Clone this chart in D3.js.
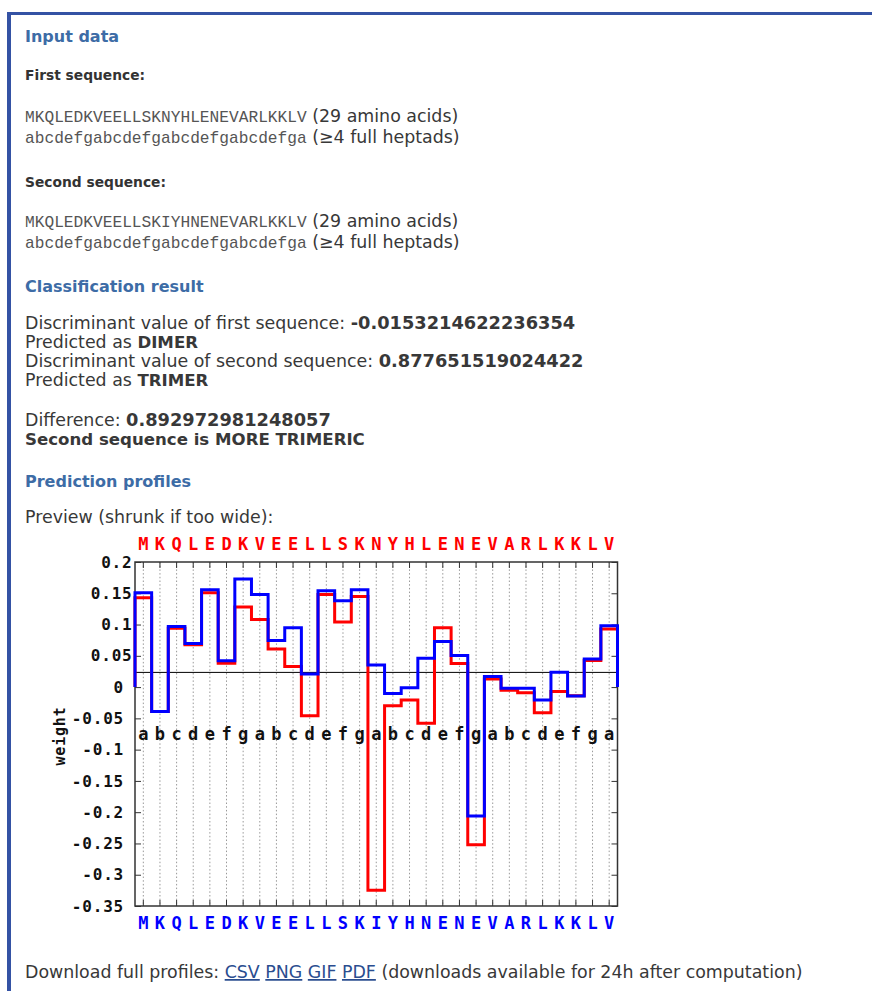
<!DOCTYPE html>
<html>
<head>
<meta charset="utf-8">
<script src="https://cdn.jsdelivr.net/npm/d3@7"></script>
<style>
  body { margin: 0; background: #fff; }
  svg { display: block; }
  .txt { font-family: "DejaVu Sans", Verdana, sans-serif; fill: #383838; }
  .mono { font-family: "Liberation Mono", "Courier New", monospace; fill: #555; }
  .plot text { font-family: "DejaVu Sans Mono", monospace; font-weight: bold; }
</style>
</head>
<body>
<div id="page"></div>
<script>
// sequences and heptad register
const seq1 = 'MKQLEDKVEELLSKNYHLENEVARLKKLV'.split('');
const seq2 = 'MKQLEDKVEELLSKIYHNENEVARLKKLV'.split('');
const heptads = 'abcdefgabcdefgabcdefgabcdefga'.split('');

// per-residue weights (red = first, blue = second)
const weights1 = [0.143, -0.039, 0.094, 0.0675, 0.151, 0.038, 0.128, 0.108, 0.061, 0.033,
	-0.046, 0.148, 0.104, 0.145, -0.325, -0.030, -0.0205, -0.058, 0.095, 0.0376,
	-0.252, 0.013, -0.005, -0.009, -0.041, -0.007, -0.014, 0.0424, 0.093];
const weights2 = [0.151, -0.039, 0.097, 0.0696, 0.1555, 0.042, 0.173, 0.148, 0.0744, 0.095,
	0.021, 0.154, 0.138, 0.1555, 0.0355, -0.0104, -0.001, 0.046, 0.0728, 0.0504,
	-0.206, 0.0168, -0.002, -0.002, -0.0205, 0.0237, -0.0141, 0.045, 0.098];

const yTicks = [0.2, 0.15, 0.1, 0.05, 0, -0.05, -0.1, -0.15, -0.2, -0.25, -0.3, -0.35];
const cutoff = 0.0235;

const discriminants = ['-0.0153214622236354', '0.877651519024422'];
const predictions = ['DIMER', 'TRIMER'];
const difference = '0.892972981248057';
const downloads = ['CSV', 'PNG', 'GIF', 'PDF'];

const W = 872, H = 991;
const headColor = '#3d6ca6';
const borderColor = '#3452a4';

const svg = d3.select('#page').append('svg')
	.attr('width', W)
	.attr('height', H);

// page frame
svg.append('rect').attr('x', 8).attr('y', 12).attr('width', W - 8).attr('height', 3).attr('fill', borderColor);
svg.append('rect').attr('x', 7).attr('y', 12).attr('width', 4).attr('height', H - 12).attr('fill', borderColor);

function heading(txt, yy) {
	svg.append('text').attr('class', 'txt')
		.attr('x', 25).attr('y', yy)
		.style('font-size', '16px').style('font-weight', 'bold').style('fill', headColor)
		.text(txt);
}
function subheading(txt, yy) {
	svg.append('text').attr('class', 'txt')
		.attr('x', 25).attr('y', yy)
		.style('font-size', '13.8px').style('font-weight', 'bold').style('fill', '#333')
		.text(txt);
}
function line(parts, yy) {
	const t = svg.append('text').attr('class', 'txt')
		.attr('x', 25).attr('y', yy)
		.style('font-size', '17.4px');
	parts.forEach(p => {
		const s = t.append('tspan').text(p.t);
		if (p.bold) s.style('font-weight', 'bold').style('font-size', p.num ? '17.8px' : '16.6px');
		if (p.mono) s.attr('class', 'mono').style('font-size', '16.2px');
		if (p.link) s.style('fill', '#2a4d8f').style('text-decoration', 'underline');
	});
	return t;
}

heading('Input data', 42);
subheading('First sequence:', 80);
line([{ t: seq1.join(''), mono: true }, { t: ' (29 amino acids)' }], 122);
line([{ t: heptads.join(''), mono: true }, { t: ' (\u22654 full heptads)' }], 143);
subheading('Second sequence:', 187);
line([{ t: seq2.join(''), mono: true }, { t: ' (29 amino acids)' }], 227);
line([{ t: heptads.join(''), mono: true }, { t: ' (\u22654 full heptads)' }], 248);

heading('Classification result', 292);
line([{ t: 'Discriminant value of first sequence: ' }, { t: discriminants[0], bold: true, num: true }], 329);
line([{ t: 'Predicted as ' }, { t: predictions[0], bold: true }], 348);
line([{ t: 'Discriminant value of second sequence: ' }, { t: discriminants[1], bold: true, num: true }], 367);
line([{ t: 'Predicted as ' }, { t: predictions[1], bold: true }], 386);
line([{ t: 'Difference: ' }, { t: difference, bold: true, num: true }], 426);
line([{ t: 'Second sequence is MORE TRIMERIC', bold: true }], 445);

heading('Prediction profiles', 487);
line([{ t: 'Preview (shrunk if too wide):' }], 523);

const dl = [{ t: 'Download full profiles: ' }];
downloads.forEach(d => {
	dl.push({ t: d, link: true });
	dl.push({ t: ' ' });
});
dl.push({ t: '(downloads available for 24h after computation)' });
line(dl, 978);

// ---- profile plot ----
const plot = { left: 135, right: 617.5, top: 562, bottom: 906 };
const x = d3.scaleBand().domain(d3.range(seq1.length)).range([plot.left, plot.right]);
const y = d3.scaleLinear().domain([-0.35, 0.2]).range([plot.bottom, plot.top]);
const bw = x.bandwidth();

const g = svg.append('g').attr('class', 'plot');

// dotted residue grid
g.append('g').selectAll('line')
	.data(d3.range(seq1.length))
	.enter().append('line')
	.attr('x1', i => x(i) + bw / 2).attr('x2', i => x(i) + bw / 2)
	.attr('y1', plot.top).attr('y2', plot.bottom)
	.attr('stroke', '#999').attr('stroke-width', 1)
	.attr('stroke-dasharray', '1.5,2.2');

const topAxis = g.append('g')
	.attr('transform', `translate(0,${plot.top})`)
	.call(d3.axisTop(x).tickSizeInner(-6).tickSizeOuter(0).tickPadding(12).tickFormat(i => seq1[i]));
const bottomAxis = g.append('g')
	.attr('transform', `translate(0,${plot.bottom})`)
	.call(d3.axisBottom(x).tickSizeInner(-6).tickSizeOuter(0).tickPadding(11).tickFormat(i => seq2[i]));
const leftAxis = g.append('g')
	.attr('transform', `translate(${plot.left},0)`)
	.call(d3.axisLeft(y).tickValues(yTicks).tickSizeInner(-6).tickSizeOuter(0).tickFormat(d => String(d)));
const rightAxis = g.append('g')
	.attr('transform', `translate(${plot.right},0)`)
	.call(d3.axisRight(y).tickValues(yTicks).tickSizeInner(-6).tickSizeOuter(0).tickFormat(''));

[topAxis, bottomAxis, leftAxis, rightAxis].forEach(a => {
	a.select('.domain').remove();
	a.selectAll('.tick line').attr('stroke', '#333');
	a.selectAll('text').style('font-family', '"DejaVu Sans Mono", monospace').style('font-weight', 'bold');
});
topAxis.selectAll('text').style('font-size', '17px').attr('fill', '#ff0000');
bottomAxis.selectAll('text').style('font-size', '17px').attr('fill', '#0000ff');
leftAxis.selectAll('text')
	.style('font-size', '16px').style('letter-spacing', '0.8px').attr('fill', '#111')
	.attr('x', d => d > 0 ? -2.5 : -11);

// frame
g.append('rect')
	.attr('x', plot.left).attr('y', plot.top)
	.attr('width', plot.right - plot.left).attr('height', plot.bottom - plot.top)
	.attr('fill', 'none').attr('stroke', '#333').attr('stroke-width', 1.5);

// cutoff line
g.append('line')
	.attr('x1', plot.left).attr('x2', plot.right)
	.attr('y1', y(cutoff)).attr('y2', y(cutoff))
	.attr('stroke', '#000').attr('stroke-width', 1);

// heptad letters
g.append('g').selectAll('text')
	.data(heptads)
	.enter().append('text')
	.attr('x', (d, i) => x(i) + bw / 2)
	.attr('y', 740)
	.attr('text-anchor', 'middle')
	.style('font-size', '17px')
	.attr('fill', '#111')
	.text(d => d);

// y label
g.append('text')
	.attr('transform', 'translate(60,736) rotate(-90)')
	.attr('text-anchor', 'middle')
	.attr('dy', '0.35em')
	.style('font-size', '15px').style('letter-spacing', '0.8px')
	.attr('fill', '#111')
	.text('weight');

// step profiles
function stepPoints(vals) {
	const pts = [[plot.left, y(0)]];
	vals.forEach((v, i) => {
		pts.push([x(i), y(v)]);
		pts.push([x(i) + bw, y(v)]);
	});
	pts.push([plot.right, y(0)]);
	return pts;
}
const lineGen = d3.line();
g.append('path')
	.attr('d', lineGen(stepPoints(weights1)))
	.attr('fill', 'none').attr('stroke', '#ff0000').attr('stroke-width', 3);
g.append('path')
	.attr('d', lineGen(stepPoints(weights2)))
	.attr('fill', 'none').attr('stroke', '#0000ff').attr('stroke-width', 3);
</script>
</body>
</html>
